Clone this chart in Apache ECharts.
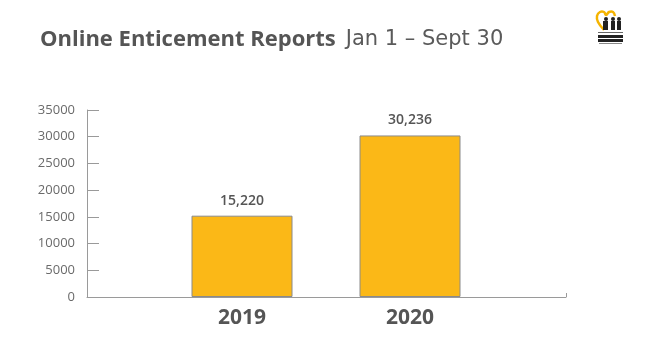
<!DOCTYPE html>
<html>
<head>
<meta charset="utf-8">
<script src="https://cdn.jsdelivr.net/npm/echarts@6/dist/echarts.min.js"></script>
<style>html,body{margin:0;padding:0;background:#fff}#c{width:648px;height:364px}</style>
</head>
<body>
<div id="c"></div>
<script>
const categories = ['2019', '2020'];
const reports = [15220, 30236];
const yTicks = [0, 5000, 10000, 15000, 20000, 25000, 30000, 35000];

const chart = echarts.init(document.getElementById('c'));
const gray = '#555555';
const axisGray = '#9a9a9a';
const fontFam = '"Open Sans", "Lato", sans-serif';
const gridTop = 110, gridBottom = 364 - 297;

chart.setOption({
  animation: false,
  backgroundColor: '#ffffff',
  title: {
    text: '{b|Online Enticement Reports}{l|Jan 1 – Sept 30}',
    left: 35, top: 24,
    textStyle: {
      rich: {
        b: { fontSize: 22, fontWeight: 'bold', color: '#555', fontFamily: fontFam },
        l: { fontSize: 21, fontWeight: 'normal', color: '#5a5a5a', fontFamily: '"DejaVu Sans", sans-serif', padding: [0, 0, 0, 10] }
      }
    }
  },
  grid: [
    { left: 87, right: 648 - 566, top: gridTop, bottom: gridBottom },
    { left: 158, width: 336, top: gridTop, bottom: gridBottom }
  ],
  xAxis: [
    { gridIndex: 0, type: 'value', min: 0, max: 1, interval: 1,
      axisLine: { show: true, lineStyle: { color: axisGray, width: 1 } },
      axisTick: { show: true, inside: true, length: 4, lineStyle: { color: axisGray } },
      axisLabel: { show: false }, splitLine: { show: false } },
    { gridIndex: 1, type: 'category', data: categories,
      axisLine: { show: false }, axisTick: { show: false },
      axisLabel: { show: true, margin: 11, fontSize: 21, fontWeight: 'bold', color: gray, fontFamily: fontFam } }
  ],
  yAxis: [
    { gridIndex: 0, type: 'value', min: yTicks[0], max: yTicks[yTicks.length - 1], interval: 5000,
      axisLine: { show: true, lineStyle: { color: axisGray, width: 1 } },
      axisTick: { show: true, inside: true, length: 12, lineStyle: { color: axisGray } },
      axisLabel: { margin: 12, fontSize: 13, color: '#6a6a6a', fontFamily: fontFam, formatter: v => String(v) },
      splitLine: { show: false } },
    { gridIndex: 1, type: 'value', min: yTicks[0], max: yTicks[yTicks.length - 1], show: false }
  ],
  series: [{
    type: 'bar', xAxisIndex: 1, yAxisIndex: 1,
    data: reports, barWidth: 101,
    itemStyle: { color: '#FBB817', borderColor: '#8a8a8a', borderWidth: 1 },
    label: {
      show: true, position: 'top', distance: 8,
      fontSize: 14, fontWeight: 600, color: gray, fontFamily: fontFam,
      formatter: p => p.value.toLocaleString('en-US')
    }
  }],
  graphic: [
    { type: 'polyline',
      shape: { points: [[604, 30], [598, 22], [597, 16], [600, 12], [604, 12], [606, 15], [609, 12], [613, 12], [615, 16]], smooth: 0.4 },
      style: { fill: 'none', stroke: '#F5B400', lineWidth: 2.5 } },
    { type: 'circle', shape: { cx: 606, cy: 19, r: 2 }, style: { fill: '#222' } },
    { type: 'circle', shape: { cx: 613, cy: 19, r: 2 }, style: { fill: '#222' } },
    { type: 'circle', shape: { cx: 619, cy: 19, r: 2 }, style: { fill: '#222' } },
    { type: 'rect', shape: { x: 603, y: 21, width: 5, height: 9 }, style: { fill: '#222' } },
    { type: 'rect', shape: { x: 611, y: 21, width: 4, height: 9 }, style: { fill: '#222' } },
    { type: 'rect', shape: { x: 617, y: 21, width: 4, height: 9 }, style: { fill: '#222' } },
    { type: 'rect', shape: { x: 598, y: 32, width: 25, height: 1 }, style: { fill: '#666' } },
    { type: 'rect', shape: { x: 598, y: 35, width: 25, height: 3 }, style: { fill: '#222' } },
    { type: 'rect', shape: { x: 598, y: 39, width: 25, height: 3 }, style: { fill: '#222' } },
    { type: 'rect', shape: { x: 599, y: 43, width: 23, height: 1 }, style: { fill: '#888' } }
  ]
});
</script>
</body>
</html>
